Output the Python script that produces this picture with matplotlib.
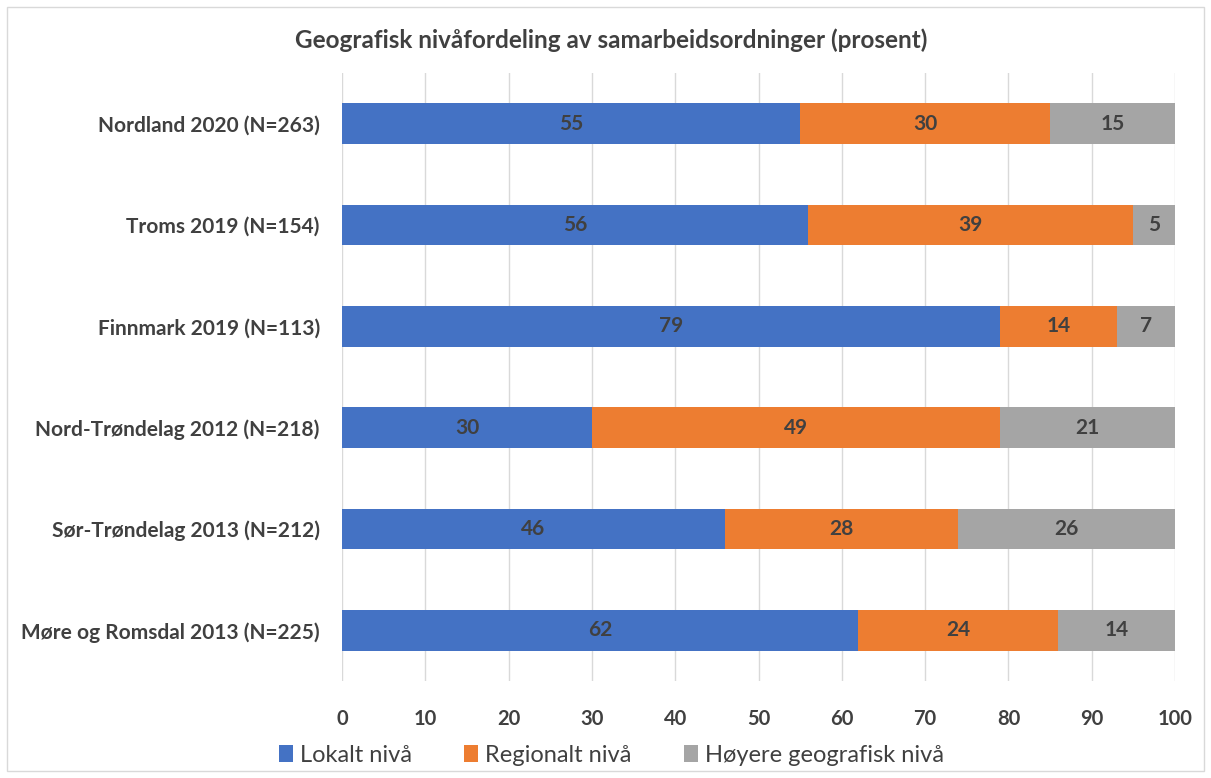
import matplotlib.pyplot as plt
from matplotlib.patches import Rectangle

plt.rcParams['font.family'] = ['Lato', 'DejaVu Sans']

regions = ['Møre og Romsdal 2013 (N=225)', 'Sør-Trøndelag 2013 (N=212)',
           'Nord-Trøndelag 2012 (N=218)', 'Finnmark 2019 (N=113)',
           'Troms 2019 (N=154)', 'Nordland 2020 (N=263)']
lokalt = [62, 46, 30, 79, 56, 55]
regionalt = [24, 28, 49, 14, 39, 30]
hoyere = [14, 26, 21, 7, 5, 15]

series = [('Lokalt nivå', lokalt, '#4472C4'),
          ('Regionalt nivå', regionalt, '#ED7D31'),
          ('Høyere geografisk nivå', hoyere, '#A5A5A5')]

txt = '#404040'
fig = plt.figure(figsize=(12.11, 7.78), dpi=100)
ax = fig.add_axes([342 / 1211, 1 - 681 / 778, 833 / 1211, 608 / 778])

y = range(len(regions))
left = [0] * len(regions)
for name, vals, col in series:
    bars = ax.barh(y, vals, left=left, height=0.4, color=col, label=name, zorder=3)
    labs = ax.bar_label(bars, labels=[str(v) for v in vals], label_type='center')
    for t in labs:
        t.set_color(txt)
        t.set_fontsize(15)
        t.set_fontweight('bold')
    left = [a + b for a, b in zip(left, vals)]

ax.set_xlim(0, 100)
ax.set_ylim(-0.5, len(regions) - 0.5)
ax.set_xticks(range(0, 101, 10))
ax.set_yticks(list(y))
ax.set_yticklabels(regions)
ax.grid(axis='x', color='#D9D9D9', linewidth=1, zorder=0)
for s in ax.spines.values():
    s.set_visible(False)
ax.tick_params(length=0, labelcolor=txt)
ax.tick_params(axis='x', pad=20, labelsize=14.5)
ax.tick_params(axis='y', pad=16, labelsize=15)
for lab in ax.get_xticklabels() + ax.get_yticklabels():
    lab.set_fontweight('bold')

fig.text(0.505, 1 - 40 / 778, 'Geografisk nivåfordeling av samarbeidsordninger (prosent)',
         ha='center', va='center', fontsize=17.5, fontweight='bold', color=txt)

leg = fig.legend(loc='center', bbox_to_anchor=(0.505, 1 - 755 / 778), ncol=3,
                 frameon=False, fontsize=17, handlelength=0.6, handleheight=0.7,
                 handletextpad=0.3, columnspacing=2.2)
for t in leg.get_texts():
    t.set_color(txt)

fig.patches.append(Rectangle((7 / 1211, 1 - 771 / 778), 1197 / 1211, 764 / 778,
                             transform=fig.transFigure, fill=False,
                             edgecolor='#D9D9D9', linewidth=1))

fig.savefig('out.png', dpi=100)
